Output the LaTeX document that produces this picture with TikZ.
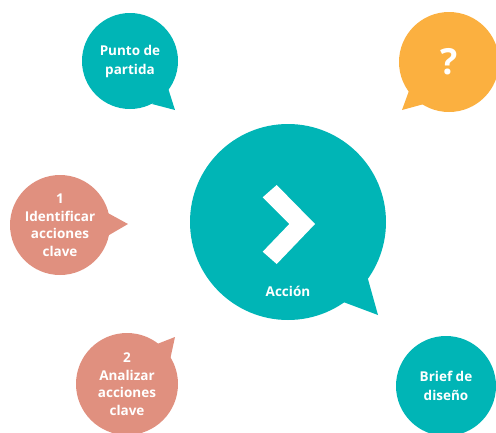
\documentclass[tikz,border=0pt]{standalone}
\usepackage{fontspec}
\setmainfont{Open Sans}
\definecolor{teal}{HTML}{00B5B6}
\definecolor{orng}{HTML}{FBB040}
\definecolor{salm}{HTML}{E0907F}
\begin{document}
\begin{tikzpicture}[x=1pt,y=-1pt,
  bubble/.style={circle,inner sep=0pt,text=white,font=\bfseries\fontsize{13.5}{17.5}\selectfont,align=center},
  ]
\useasboundingbox (0,0) rectangle (496,432);
\clip (0,0) rectangle (496,432);
% Punto de partida
\node[bubble,fill=teal,minimum size=96pt,font=\bfseries\fontsize{13.5}{19}\selectfont] (punto) at (130,61) {Punto de\\partida};
\fill[teal] (168,88) -- (175,110) -- (152,104) -- cycle;
% Question
\node[bubble,fill=orng,minimum size=100pt,font=\bfseries\fontsize{36}{40}\selectfont] (quest) at (449,62) {?};
\fill[orng] (410,88) -- (402,110) -- (424,104) -- cycle;
% 1 Identificar
\node[bubble,fill=salm,minimum size=100pt] (ident) at (60,225) {1\\Identificar\\acciones\\clave};
\fill[salm] (106,212) -- (128,224) -- (104,238) -- cycle;
% 2 Analizar
\node[bubble,fill=salm,minimum size=102pt] (anal) at (127,384) {2\\Analizar\\acciones\\clave};
\fill[salm] (152,346) -- (175,337) -- (170,360) -- cycle;
% Brief de diseno
\node[bubble,fill=teal,minimum size=100pt,font=\bfseries\fontsize{13.5}{19}\selectfont] (brief) at (446,386) {Brief de\\diseño};
% Accion
\node[circle,fill=teal,minimum size=196pt,inner sep=0pt] (accion) at (288,222) {};
\fill[teal] (366,272) -- (378,315) -- (338,300) -- cycle;
\fill[white] (276.7,185) -- (315,224) -- (276.7,264) -- (262.7,251.7) -- (289.3,224) -- (262.7,197.3) -- cycle;
\node[text=white,font=\bfseries\fontsize{13.5}{15}\selectfont] (acclabel) at (288,291) {Acción};
\end{tikzpicture}
\end{document}
